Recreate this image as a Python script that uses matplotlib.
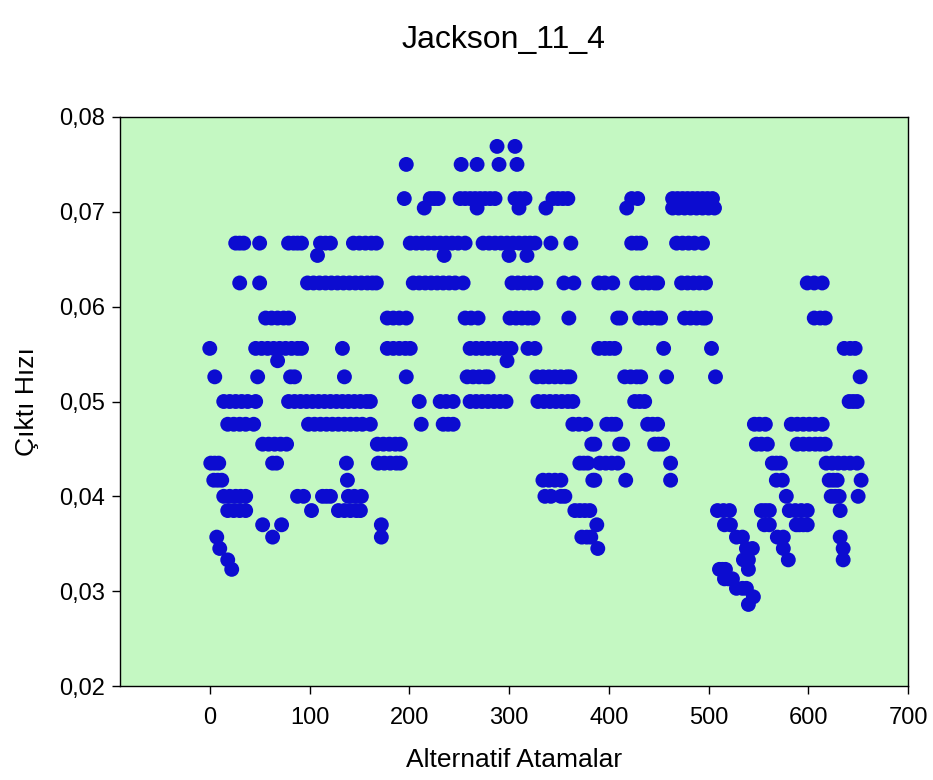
import matplotlib
matplotlib.use("Agg")
import matplotlib.pyplot as plt
from matplotlib.ticker import FuncFormatter, MultipleLocator

plt.rcParams['font.family'] = ['Liberation Sans', 'DejaVu Sans']

# output rate levels and the assignment numbers that reach each level
y_0769 = [288, 306]
y_0750 = [197, 252, 268, 290, 308]
y_0714 = [195, 221, 225, 229, 251, 256, 261, 266, 271, 276, 281, 286, 306, 311, 316,
          344, 349, 354, 359, 423, 429, 464, 469, 474, 479, 484, 489, 494, 499, 504]
y_0704 = [215, 268, 310, 337, 418, 464, 470, 476, 482, 488, 494, 500, 506]
y_0667 = [26, 30, 34, 50, 79, 84, 88, 92, 111, 116, 121, 144, 150, 156, 162, 167,
          201, 207, 213, 219, 225, 231, 237, 243, 249, 256, 274, 280, 286, 292, 298,
          304, 310, 316, 321, 326, 342, 362, 423, 428, 432, 468, 474, 480, 486, 494]
y_0654 = [108, 235, 300, 318]
y_0625 = [30, 50, 98, 104, 110, 116, 122, 128, 134, 140, 146, 152, 158, 163, 167,
          204, 210, 216, 222, 228, 234, 240, 246, 254, 303, 309, 315, 321, 327, 355,
          365, 390, 396, 404, 428, 434, 440, 446, 449, 473, 479, 485, 491, 497, 599,
          606, 614]
y_0588 = [56, 62, 68, 74, 79, 178, 184, 190, 197, 256, 262, 269, 301, 307, 313, 319,
          324, 360, 409, 412, 431, 437, 443, 449, 452, 476, 482, 488, 494, 497, 606,
          612, 617]
y_0556 = [0, 46, 52, 58, 64, 70, 76, 82, 88, 92, 133, 178, 184, 190, 196, 201, 261,
          267, 273, 279, 285, 291, 297, 302, 319, 326, 390, 396, 401, 406, 455, 503,
          636, 642, 647]
y_0543 = [68, 298]
y_0526 = [5, 48, 81, 85, 135, 197, 258, 264, 270, 276, 279, 328, 334, 340, 346, 352,
          358, 361, 416, 422, 428, 432, 458, 507, 652]
y_0500 = [14, 20, 26, 32, 38, 46, 79, 85, 91, 97, 103, 109, 115, 121, 127, 133, 139,
          145, 151, 157, 161, 210, 231, 237, 244, 261, 267, 273, 279, 285, 291, 297,
          329, 335, 341, 347, 353, 359, 364, 426, 431, 436, 641, 645, 649]
y_0476 = [18, 24, 30, 36, 44, 99, 105, 111, 117, 123, 129, 135, 141, 147, 153, 161,
          212, 234, 239, 244, 364, 370, 377, 398, 403, 407, 439, 444, 449, 546, 551,
          557, 583, 589, 595, 601, 607, 614]
y_0455 = [53, 59, 65, 71, 77, 168, 174, 180, 186, 191, 383, 386, 411, 414, 446, 450,
          454, 548, 553, 559, 589, 595, 601, 607, 612, 617]
y_0435 = [1, 5, 9, 63, 67, 137, 169, 175, 181, 187, 191, 371, 375, 379, 391, 397,
          403, 409, 462, 564, 568, 572, 618, 624, 630, 636, 642, 649]
y_0417 = [4, 8, 12, 138, 334, 340, 346, 352, 384, 386, 417, 462, 568, 574, 621, 625,
          629, 653]
y_0400 = [14, 20, 26, 31, 36, 88, 94, 113, 117, 121, 139, 145, 152, 336, 342, 352,
          356, 578, 623, 627, 631, 650]
y_0385 = [18, 24, 30, 36, 102, 129, 135, 141, 147, 151, 366, 371, 376, 381, 509, 515,
          521, 553, 557, 561, 581, 587, 593, 599, 632]
y_0370 = [53, 72, 172, 388, 516, 522, 556, 561, 588, 591, 595, 599]
y_0357 = [7, 63, 172, 373, 378, 382, 528, 534, 569, 575, 632]
y_0345 = [10, 389, 538, 544, 575, 635]
y_0333 = [18, 535, 540, 580, 635]
y_0323 = [22, 511, 514, 517, 540]
y_0313 = [516, 520, 524]
y_0303 = [528, 534, 538]
y_0294 = [545]
y_0286 = [540]

levels = [
    (0.0769, y_0769), (0.0750, y_0750), (0.0714, y_0714), (0.0704, y_0704),
    (0.0667, y_0667), (0.0654, y_0654), (0.0625, y_0625), (0.0588, y_0588),
    (0.0556, y_0556), (0.0543, y_0543), (0.0526, y_0526), (0.0500, y_0500),
    (0.0476, y_0476), (0.0455, y_0455), (0.0435, y_0435), (0.0417, y_0417),
    (0.0400, y_0400), (0.0385, y_0385), (0.0370, y_0370), (0.0357, y_0357),
    (0.0345, y_0345), (0.0333, y_0333), (0.0323, y_0323), (0.0313, y_0313),
    (0.0303, y_0303), (0.0294, y_0294), (0.0286, y_0286),
]

xs = []
ys = []
for val, pts in levels:
    xs += pts
    ys += [val] * len(pts)

fig = plt.figure(figsize=(9.33, 7.8), dpi=100)
ax = fig.add_axes([120 / 933, 94 / 780, 788 / 933, 569 / 780])
ax.set_facecolor('#c4f8c2')
ax.scatter(xs, ys, s=115, color='#0c0cd0', edgecolors='none', zorder=3)

ax.set_xlim(-90, 700)
ax.set_ylim(0.02, 0.08)
ax.set_xticks(range(0, 701, 100))
ax.yaxis.set_major_locator(MultipleLocator(0.01))
ax.yaxis.set_major_formatter(FuncFormatter(lambda v, p: ('%.2f' % v).replace('.', ',')))
ax.tick_params(direction='out', length=6, width=1, labelsize=17)
ax.tick_params(axis='x', pad=9)
ax.tick_params(axis='y', pad=5)
for sp in ax.spines.values():
    sp.set_linewidth(1.0)

fig.text(504 / 933, 1 - 40 / 780, 'Jackson_11_4', ha='center', va='center', fontsize=23)
ax.set_xlabel('Alternatif Atamalar', fontsize=19, labelpad=14)
ax.set_ylabel('Çıktı Hızı', fontsize=19, labelpad=14)

fig.savefig('out.png', dpi=100)
